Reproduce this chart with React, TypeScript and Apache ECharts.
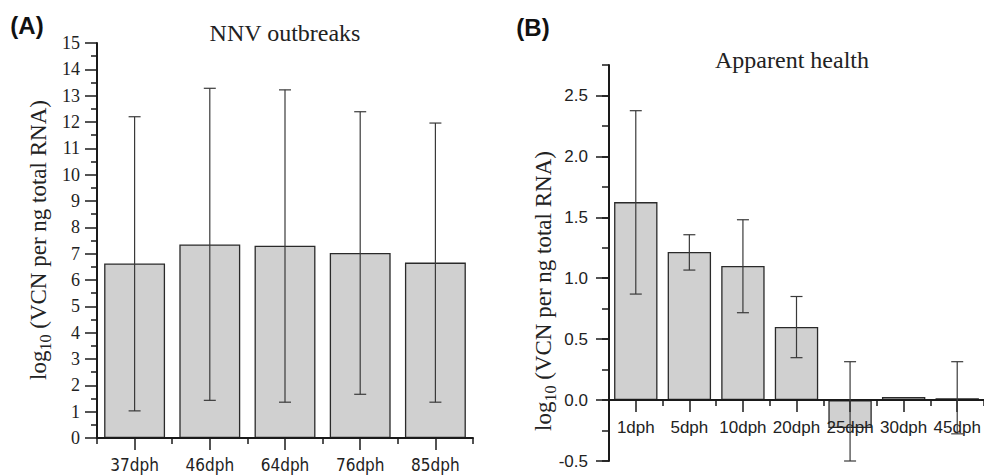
import React, { useEffect, useRef } from 'react';
import * as echarts from 'echarts';

// Panel A: NNV outbreaks
const catsA = ['37dph', '46dph', '64dph', '76dph', '85dph'];
const meanA = [6.63, 7.35, 7.3, 7.03, 6.66];
const upperA = [12.2, 13.28, 13.22, 12.39, 11.96];
const lowerA = [1.03, 1.43, 1.36, 1.66, 1.36];

// Panel B: Apparent health
const catsB = ['1dph', '5dph', '10dph', '20dph', '25dph', '30dph', '45dph'];
const meanB = [1.625, 1.215, 1.1, 0.6, -0.23, 0.025, 0.016];
const upperB: (number | null)[] = [2.375, 1.357, 1.48, 0.85, 0.315, null, 0.315];
const lowerB: (number | null)[] = [0.87, 1.067, 0.717, 0.348, -0.5, null, -0.277];

const majorTicksB = [-0.5, 0, 0.5, 1.0, 1.5, 2.0, 2.5];
const minorTicksB = [-0.5, -0.25, 0, 0.25, 0.5, 0.75, 1.0, 1.25, 1.5, 1.75, 2.0, 2.25, 2.5, 2.75];

export default function App() {
  const ref = useRef<HTMLDivElement>(null);

  useEffect(() => {
    const chart = echarts.init(ref.current as HTMLDivElement, null, { renderer: 'svg' });
    const serif = '"Liberation Serif", "Times New Roman", serif';
    const sans = '"Liberation Sans", Arial, sans-serif';
    const condensed = '"DejaVu Sans Condensed", "DejaVu Sans", sans-serif';
    const axisColor = '#1a1a1a';
    const tickColor = '#1a1a1a';

    const errRender = (_params: any, api: any) => {
      const idx = api.value(0);
      const lo = api.value(1);
      const hi = api.value(2);
      const top = api.coord([idx, hi]);
      const bot = api.coord([idx, lo]);
      const half = 6;
      const style = { stroke: '#3a3a3a', lineWidth: 1.2 };
      return {
        type: 'group',
        children: [
          { type: 'line', shape: { x1: top[0], y1: top[1], x2: bot[0], y2: bot[1] }, style },
          { type: 'line', shape: { x1: top[0] - half, y1: top[1], x2: top[0] + half, y2: top[1] }, style },
          { type: 'line', shape: { x1: bot[0] - half, y1: bot[1], x2: bot[0] + half, y2: bot[1] }, style },
        ],
      };
    };

    const errA = catsA.map((_c, i) => [i, lowerA[i], upperA[i]]);
    const errB = catsB
      .map((_c, i) => (upperB[i] == null ? null : [i, lowerB[i], upperB[i]]))
      .filter((d) => d !== null);

    const ts = () => ({ color: tickColor, width: 1.5 });

    const xBase = (gridIndex: number, cats: string[]) => ({
      type: 'category',
      gridIndex,
      data: cats,
      position: 'bottom',
      z: 4,
      axisLine: { show: true, onZero: false, lineStyle: { color: axisColor, width: 2 } },
      axisTick: { show: true, length: 6, lineStyle: ts() },
      axisLabel: { show: false },
      splitLine: { show: false },
    });
    const xCenter = (gridIndex: number, cats: string[], fontFamily: string, fontSize: number, margin: number) => ({
      type: 'category',
      gridIndex,
      data: cats,
      position: 'bottom',
      z: 5,
      axisLine: { show: false, onZero: false },
      axisTick: { show: true, alignWithLabel: true, length: 12, lineStyle: ts() },
      axisLabel: { show: true, interval: 0, hideOverlap: false, fontFamily, fontSize, color: '#222', margin },
      splitLine: { show: false },
    });

    const barStyle = { color: '#d0d0d0', borderColor: '#2a2a2a', borderWidth: 1.3 };

    const yLabelText = '{a|log}{b|10}{a| (VCN per ng total RNA)}';
    const yLabelRich = {
      a: { fontFamily: serif, fontSize: 23, lineHeight: 30, verticalAlign: 'middle', fill: '#222' },
      b: { fontFamily: serif, fontSize: 16, lineHeight: 14, verticalAlign: 'bottom', fill: '#222' },
    };

    chart.setOption({
      animation: false,
      backgroundColor: '#ffffff',
      grid: [
        { left: 97, top: 43, width: 376, height: 395, outerBoundsMode: 'none' },
        { left: 609, top: 65, width: 375, height: 396, outerBoundsMode: 'none' },
        { left: 609, top: 65, width: 375, height: 335, outerBoundsMode: 'none' },
      ],
      xAxis: [
        xBase(0, catsA),
        xCenter(0, catsA, condensed, 17, 18),
        { type: 'category', gridIndex: 1, data: catsB, show: false },
        xBase(2, catsB),
        xCenter(2, catsB, sans, 17, 19),
      ],
      yAxis: [
        {
          type: 'value',
          gridIndex: 0,
          min: 0,
          max: 15,
          interval: 1,
          axisLine: { show: true, lineStyle: { color: axisColor, width: 2 } },
          axisTick: { show: true, length: 12, lineStyle: ts() },
          minorTick: { show: true, splitNumber: 2, length: 6, lineStyle: ts() },
          axisLabel: { fontFamily: serif, fontSize: 18, color: '#222', margin: 17 },
          splitLine: { show: false },
        },
        {
          type: 'value',
          gridIndex: 1,
          min: -0.5,
          max: 2.75,
          interval: 0.25,
          axisLine: { show: true, lineStyle: { color: axisColor, width: 2 } },
          axisTick: { show: true, length: 7, customValues: minorTicksB, lineStyle: ts() },
          axisLabel: { show: false },
          splitLine: { show: false },
        },
        {
          type: 'value',
          gridIndex: 1,
          min: -0.5,
          max: 2.75,
          position: 'left',
          axisLine: { show: false },
          axisTick: { show: true, length: 13, customValues: majorTicksB, lineStyle: ts() },
          axisLabel: {
            show: true,
            customValues: majorTicksB,
            formatter: (v: number) => v.toFixed(1),
            fontFamily: sans,
            fontSize: 17,
            color: '#222',
            margin: 21,
          },
          splitLine: { show: false },
        },
        { type: 'value', gridIndex: 2, min: 0, max: 1, show: false },
      ],
      series: [
        { type: 'bar', xAxisIndex: 0, yAxisIndex: 0, data: meanA, barCategoryGap: '19%', itemStyle: barStyle, z: 2 },
        { type: 'custom', xAxisIndex: 0, yAxisIndex: 0, renderItem: errRender, data: errA, encode: { x: 0, y: [1, 2] }, z: 6 },
        { type: 'bar', xAxisIndex: 2, yAxisIndex: 1, data: meanB, barCategoryGap: '19%', itemStyle: barStyle, z: 2 },
        { type: 'custom', xAxisIndex: 2, yAxisIndex: 1, renderItem: errRender, data: errB, encode: { x: 0, y: [1, 2] }, z: 6 },
      ],
      graphic: [
        { type: 'text', x: 27, y: 25, style: { text: '(A)', fontFamily: sans, fontWeight: 'bold', fontSize: 24, fill: '#111', align: 'center', verticalAlign: 'middle' } },
        { type: 'text', x: 533, y: 27, style: { text: '(B)', fontFamily: sans, fontWeight: 'bold', fontSize: 24, fill: '#111', align: 'center', verticalAlign: 'middle' } },
        { type: 'text', x: 285, y: 33, style: { text: 'NNV outbreaks', fontFamily: serif, fontSize: 24, fill: '#222', align: 'center', verticalAlign: 'middle' } },
        { type: 'text', x: 792, y: 60, style: { text: 'Apparent health', fontFamily: serif, fontSize: 24, fill: '#222', align: 'center', verticalAlign: 'middle' } },
        { type: 'text', x: 38, y: 240, rotation: Math.PI / 2, style: { text: yLabelText, rich: yLabelRich, align: 'center', verticalAlign: 'middle' } },
        { type: 'text', x: 543, y: 291, rotation: Math.PI / 2, style: { text: yLabelText, rich: yLabelRich, align: 'center', verticalAlign: 'middle' } },
      ],
    });

    return () => {
      chart.dispose();
    };
  }, []);

  return <div ref={ref} style={{ position: 'absolute', left: 0, top: 0, width: 984, height: 475, background: '#fff' }} />;
}
